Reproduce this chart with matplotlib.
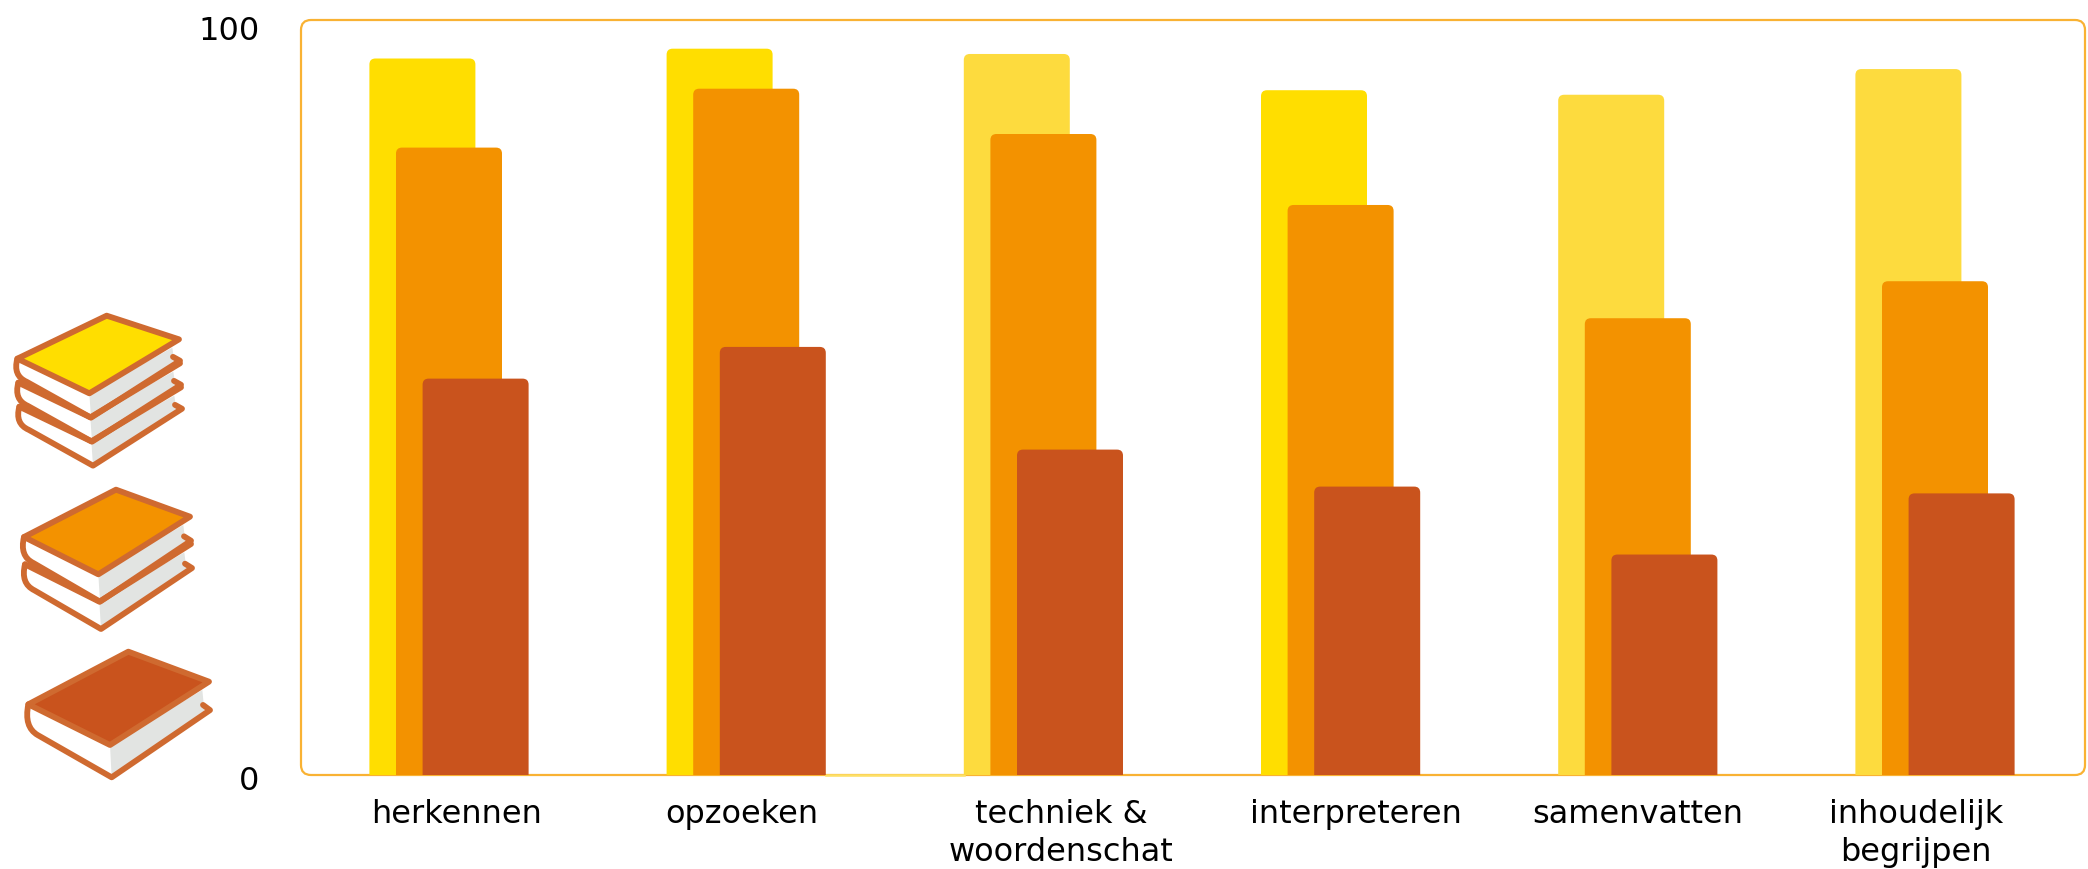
import matplotlib
matplotlib.use("Agg")
import matplotlib.pyplot as plt
from matplotlib.patches import FancyBboxPatch, Polygon, PathPatch
from matplotlib.path import Path

W, H = 2088, 869

categories = ["herkennen", "opzoeken", "techniek &\nwoordenschat", "interpreteren", "samenvatten", "inhoudelijk\nbegrijpen"]
# waarden
yellow_vals = [94.9, 96.2, 95.5, 90.7, 90.1, 93.5]
orange_vals = [83.1, 90.9, 84.9, 75.5, 60.5, 65.4]
brown_vals = [52.5, 56.7, 43.1, 38.2, 29.2, 37.3]
# middens van de labels, in groepsposities
label_pos = [0.025, 0.985, 2.06, 3.05, 4.0, 4.935]

YELLOW = "#FFDE00"
YELLOW_LIGHT = "#FDDB3E"
yellow_cols = [YELLOW, YELLOW, YELLOW_LIGHT, YELLOW, YELLOW_LIGHT, YELLOW_LIGHT]
ORANGE = "#F39200"
BROWN = "#C9531D"
FRAME = "#F9B233"
EDGE = "#CF6A30"
GRAY = "#E2E4E2"

plt.rcParams["font.family"] = "DejaVu Sans"
fig = plt.figure(figsize=(W / 100, H / 100), dpi=100)

ax_l, ax_r, ax_t, ax_b = 301, 2085, 20, 775
ax = fig.add_axes([ax_l / W, 1 - ax_b / H, (ax_r - ax_l) / W, (ax_b - ax_t) / H])

step = 297.2
x0 = (449 - ax_l) / step
ax.set_xlim(-x0, (ax_r - ax_l) / step - x0)
ax.set_ylim(0, 100)
for s in ax.spines.values():
    s.set_visible(False)
ax.patch.set_alpha(0)

ux = step
uy = (ax_b - ax_t) / 100


def bar(x, v, w, col):
    # afgeronde bovenhoeken, onderkant valt weg door de clip
    r = 6 / ux
    p = FancyBboxPatch((x, -3), w, v + 3, boxstyle=f"round,pad=0,rounding_size={r}",
                       mutation_aspect=ux / uy, fc=col, ec="none", zorder=3)
    ax.add_patch(p)


bw = 106 / step
off = 26.6 / step
for i in range(len(categories)):
    bar(i - bw / 2 - off, yellow_vals[i], bw, yellow_cols[i])
    bar(i - bw / 2, orange_vals[i], bw, ORANGE)
    bar(i - bw / 2 + off, brown_vals[i], bw, BROWN)

# kader
xl, xr = ax.get_xlim()
r = 10 / ux
ax.add_patch(FancyBboxPatch((xl, 0), xr - xl, 100, boxstyle=f"round,pad=0,rounding_size={r}",
                            mutation_aspect=ux / uy, fc="none", ec=FRAME, lw=1.6,
                            clip_on=False, zorder=2))
# stukje onderrand is lichtgeel tussen groep 2 en 3
ax.plot([1 + bw / 2 + off, 2 - bw / 2 - off], [0, 0], color="#FDE066", lw=1.8, clip_on=False, zorder=2.5)

ax.set_yticks([])
ax.set_xticks(label_pos)
ax.set_xticklabels(categories, fontsize=23, linespacing=1.3)
ax.tick_params(axis="x", length=0, pad=17)
ax.annotate("100", (xl, 100), xytext=(-30, -8), textcoords="offset points", ha="right", va="center", fontsize=23)
ax.annotate("0", (xl, 0), xytext=(-30, -5), textcoords="offset points", ha="right", va="center", fontsize=23)

# boekjes in de legenda, in pixels
ov = fig.add_axes([0, 0, 1, 1], zorder=5)
ov.set_xlim(0, W)
ov.set_ylim(H, 0)
ov.axis("off")


def z(p):
    return (p[0] / 3, 280 + p[1] / 3)


def book_stack(L, T, R, F, n, h, st, col):
    lw = 4.2
    L = (L[0] + 7, L[1] + 1)
    T = (T[0], T[1] + 7)
    R = (R[0] - 8, R[1])
    F = (F[0], F[1] - 5)
    for i in range(n - 1, -1, -1):
        d = (st[0] * i, st[1] * i)
        l = (L[0] + d[0], L[1] + d[1])
        f = (F[0] + d[0], F[1] + d[1])
        rr = (R[0] + d[0], R[1] + d[1])
        bl = (l[0] + 28, l[1] + h * 0.95)
        bf = (f[0] + 5, f[1] + h)
        br = (rr[0] + 3, rr[1] + h * 0.88)
        tab = (rr[0] - 18, rr[1] + h * 0.72)
        # bladzijden
        ov.add_patch(Polygon([z(l), z(f), z(bf), z(bl)], fc="white", ec="none"))
        ov.add_patch(Polygon([z(f), z((rr[0] - 20, rr[1] + 25)), z((rr[0] - 14, rr[1] + h * 0.9)), z(bf)],
                             fc=GRAY, ec="none"))
        # onderkaft en rug
        verts = [z(l), z((l[0] - 14, l[1] + h * 0.7)), z(bl), z(bf), z(br), z(tab)]
        codes = [Path.MOVETO, Path.CURVE3, Path.CURVE3, Path.LINETO, Path.LINETO, Path.LINETO]
        ov.add_patch(PathPatch(Path(verts, codes), fc="none", ec=EDGE, lw=lw, joinstyle="round", capstyle="round"))
        # kaft
        if i == 0:
            ov.add_patch(Polygon([z(L), z(T), z(R), z(F)], closed=True, fc=col, ec=EDGE, lw=lw, joinstyle="round"))
        else:
            ov.plot(*zip(z(l), z(f), z(rr)), color=EDGE, lw=lw, solid_joinstyle="round", solid_capstyle="round")


book_stack((45, 235), (320, 100), (545, 178), (268, 345), 3, 73, (3, 72), YELLOW)
book_stack((65, 770), (348, 622), (578, 710), (295, 888), 2, 82, (3, 82), ORANGE)
book_stack((78, 1272), (385, 1108), (635, 1205), (330, 1400), 1, 97, (0, 0), BROWN)

fig.savefig("out.png", dpi=100)
